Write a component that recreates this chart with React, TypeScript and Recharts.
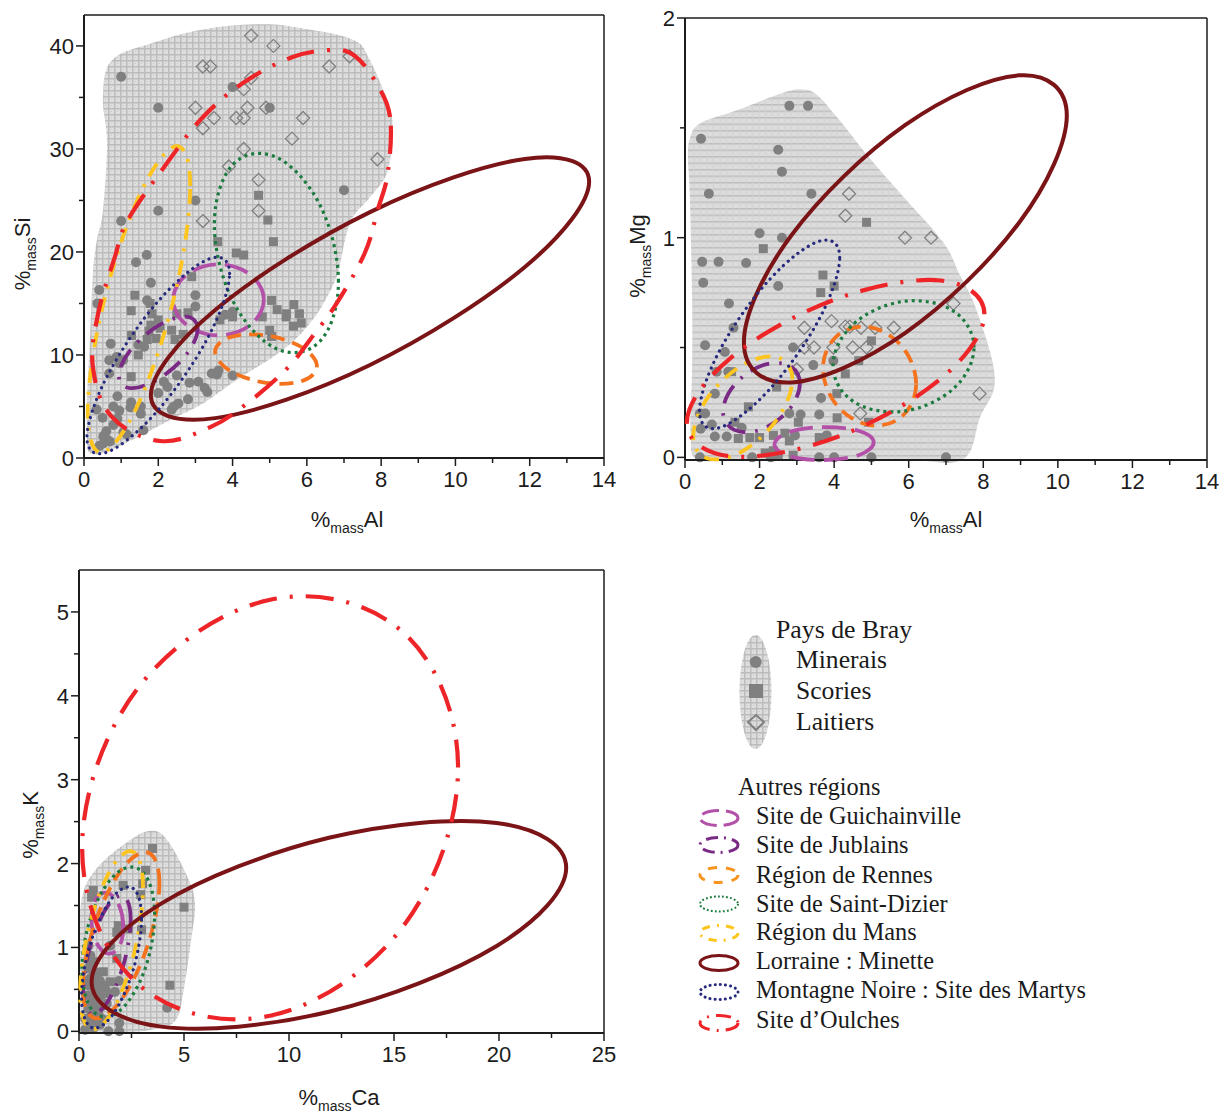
import React from 'react';
import { ComposedChart, Line, Scatter, XAxis, YAxis, Label, ReferenceLine } from 'recharts';

type Pt = number[];

// Chart 1: %Al / %Si
const siMinerais: Pt[] = [[1,37],[2,34],[4,36],[5,34],[3,25],[2,24],[1,23],[7,26],[1.69,19.7],[1.4,19],[1.8,17],[.41,16.3],[.36,15],[1.7,15.3],[3,15.8],[3,14.7],[.72,11.1],[1.46,11],[.68,9.5],[.88,9.8],[.68,8.2],[.9,6],[.79,5],[.34,4.7],[.5,3.9],[.79,3.2],[.52,2.1],[.52,1.4],[1.06,2.5],[1.6,2.7],[1.27,5.4],[1.53,5],[1.53,4.3],[2,6.3],[2.15,7.4],[2.5,8],[2.36,4.7],[2.54,5.3],[2.8,5.7],[2.84,7.3],[3.08,7.4],[3.32,6.4],[3.44,8.2],[3.62,8.5],[4,8],[3.8,13.9],[4,14.2],[1.62,10.8],[.95,9.2],[.62,1.8],[.42,1.2],[1.25,4.9],[2.42,5],[3.58,8.1],[3.25,6.8],[.7,1.6],[.6,2.6],[.9,3.8],[.95,4.6],[1.05,9.5],[2.25,6.9],[1.15,2.3]];
const siScories: Pt[] = [[4.7,25.5],[4.95,23.1],[5.1,21],[3.6,21],[4.1,19.9],[4.3,19.7],[2.9,17.6],[1.37,15.8],[1.27,14.3],[1.83,14],[2,13.4],[1.8,12.9],[2.5,14],[2.8,14.1],[3.66,13.4],[4,13.7],[5.05,15.3],[5.2,14.4],[5.65,14.9],[5.45,14],[5.44,13.7],[5.8,14],[5.85,13.1],[5.64,12.8],[5,12.4],[4.8,13.7],[2.36,12.4],[2.67,12],[2.45,11.5],[1.94,11.6],[1.7,11.5],[1.28,11.9],[1.46,10],[1.27,7.9],[1.78,15],[2.05,12.6],[1.75,12.3],[5.05,11.8]];
const siLaitiers: Pt[] = [[4.5,41],[5.1,40],[3.2,38],[3.4,38],[7.15,39],[6.6,38],[4.5,36.9],[4.3,35.8],[3,34],[4.4,34],[4.9,34],[3.5,33],[4.1,33],[4.3,33],[5.9,33],[3.2,32],[5.6,31],[4.3,30],[7.9,29],[3.9,28.3],[4.7,27],[4.7,24],[3.2,23]];
const siZone: Pt[] = [[.51,35],[.75,38.6],[1.86,40.3],[3.2,41.6],[4.74,42.1],[5.9,41.7],[7.24,40.6],[7.7,38.6],[8.24,33.8],[8.29,31.2],[8.16,27.7],[7.7,25.3],[7.24,23.4],[7.03,21.2],[6.84,18],[6.54,15.6],[6.09,13.1],[5.36,10.5],[4.12,7.6],[3.2,5.3],[2.32,3.7],[1.43,2],[.51,.5],[.16,.5],[.08,1.7],[.08,5.6],[.16,11.5],[.24,18],[.35,21.2],[.51,24],[.62,30.6]];
const siGuichainville: Pt[] = [[4.84,15.35],[4.48,17.78],[3.62,18.8],[2.76,17.78],[2.4,15.35],[2.76,12.92],[3.62,11.9],[4.48,12.92]];
const siJublains: Pt[] = [[3.06,12.53],[2.75,13.72],[2,12.84],[1.25,10.47],[.94,7.97],[1.25,6.78],[2,7.66],[2.75,10.03]];
const siRennes: Pt[] = [[6.27,8.9],[5.87,10.73],[4.9,11.9],[3.93,11.72],[3.53,10.3],[3.93,8.47],[4.9,7.3],[5.87,7.48]];
const siDizier: Pt[] = [[6.85,17.11],[6.36,24.5],[5.18,29.19],[4,28.44],[3.51,22.69],[4,15.3],[5.18,10.61],[6.36,11.36]];
const siMans: Pt[] = [[2.86,26.4],[2.46,30.25],[1.48,25.4],[.5,14.69],[.1,4.4],[.5,.55],[1.48,5.4],[2.46,16.11]];
const siLorraine: Pt[] = [[13.6,26.82],[11.87,29.03],[7.7,23.87],[3.53,14.36],[1.8,6.08],[3.53,3.87],[7.7,9.03],[11.87,18.54]];
const siMartys: Pt[] = [[3.92,17.91],[3.36,19.31],[2,15.23],[.64,8.05],[.08,1.99],[.64,.59],[2,4.67],[3.36,11.85]];
const siOulches: Pt[] = [[8.24,33.1],[7.85,36.5],[7.3,39],[6.7,39.6],[5.6,38.9],[4.28,36.4],[3.18,33],[2.23,28.6],[1.18,23.1],[.83,19.5],[.38,14],[.24,8.8],[.75,4],[2.05,1.65],[3.4,3],[4.39,5.3],[5.47,8.7],[6.17,11.9],[6.8,15],[7.56,19.9],[7.9,24],[8.18,27.7]];

// Chart 2: %Al / %Mg
const mgMinerais: Pt[] = [[2.8,1.6],[3.3,1.6],[.43,1.45],[2.5,1.4],[2.6,1.3],[.64,1.2],[3.39,1.2],[2,1.02],[2.6,1],[.46,.89],[.9,.89],[1.64,.885],[.49,.795],[2.5,.78],[1.18,.7],[1.3,.59],[.54,.51],[1.07,.48],[2.9,.5],[3.44,.42],[3.98,.44],[.85,.39],[1.16,.39],[.8,.29],[3.65,.27],[.4,.2],[.54,.2],[.72,.15],[.42,.13],[.8,.095],[1.12,.095],[1.52,.135],[2.8,.2],[3.1,.195],[3.6,.195],[3.8,.1],[.4,0],[2.3,0],[1.8,0],[3.6,0],[4,0],[5,0],[7,0],[2.95,.1]];
const mgScories: Pt[] = [[4.87,1.07],[2.1,.95],[3.7,.83],[4,.78],[3.64,.75],[5,.53],[4.66,.44],[4.3,.38],[1.25,.39],[2.46,.32],[4.07,.29],[1.7,.23],[1.34,.16],[4.08,.18],[4.92,.16],[3.04,.16],[2.8,.075],[2.68,.11],[3.6,.09],[2,.09],[1.43,.086],[1.74,.09],[2.37,.1],[2.15,.02],[2.37,.03],[2.5,.01],[2.9,.01]];
const mgLaitiers: Pt[] = [[4.4,1.2],[4.3,1.1],[5.9,1],[6.6,1],[3.2,.59],[3.93,.62],[4.3,.595],[4.42,.595],[4.72,.59],[5.1,.59],[5.6,.59],[7.2,.7],[3.2,.5],[3.46,.5],[3.98,.5],[4.5,.5],[4.87,.5],[3,.4],[7.9,.29],[4.7,.2]];
const mgZone: Pt[] = [[.08,1.36],[.13,1.45],[.4,1.52],[1.39,1.58],[2.63,1.66],[3.16,1.675],[3.54,1.65],[4.07,1.55],[4.96,1.36],[5.84,1.19],[6.92,.98],[7.37,.83],[7.83,.665],[8.31,.36],[7.91,.18],[7.45,-.01],[6,-.01],[4.5,-.01],[3,-.01],[1.5,-.01],[.35,-.01],[.15,.1],[.19,.41],[.19,.71],[.13,1.19]];
const mgGuichainville: Pt[] = [[5.06,.068],[4.67,.12],[3.73,.138],[2.79,.115],[2.4,.058],[2.79,.006],[3.73,-.012],[4.67,.011]];
const mgJublains: Pt[] = [[3.08,.335],[2.78,.419],[2.05,.417],[1.32,.329],[1.02,.209],[1.32,.125],[2.05,.127],[2.78,.215]];
const mgRennes: Pt[] = [[6.2,.335],[5.83,.503],[4.95,.593],[4.07,.552],[3.7,.405],[4.07,.237],[4.95,.147],[5.83,.188]];
const mgDizier: Pt[] = [[7.75,.5],[7.2,.666],[5.86,.71],[4.52,.607],[3.97,.418],[4.52,.254],[5.86,.21],[7.2,.313]];
const mgMans: Pt[] = [[2.88,.354],[2.49,.455],[1.55,.421],[.61,.272],[.22,.096],[.61,-.005],[1.55,.029],[2.49,.178]];
const mgLorraine: Pt[] = [[10.24,1.556],[8.97,1.739],[5.91,1.513],[2.85,1.01],[1.58,.524],[2.85,.341],[5.91,.567],[8.97,1.07]];
const mgMartys: Pt[] = [[4.15,.91],[3.6,.984],[2.27,.81],[.94,.49],[.39,.21],[.94,.136],[2.27,.31],[3.6,.63]];
const mgOulches: Pt[] = [[8.03,.652],[6.86,.805],[4.04,.72],[1.22,.452],[.05,.158],[1.22,.005],[4.04,.09],[6.86,.358]];

// Chart 3: %Ca / %K
const kMinerais: Pt[] = [[4.2,.28],[1.48,1.02],[.44,.43],[.68,.35],[.44,.27],[.92,.23],[.29,.15],[1,.08],[.29,.02],[1.4,0],[1.92,0],[1.92,.1],[.52,.11],[.68,.04],[.84,.13],[.6,.19],[.76,.51],[1.08,.43],[1.32,.33],[1.71,.47],[.44,.75],[.5,.62],[.6,.55],[.7,.7],[.55,.9],[.45,1.02],[1,.6],[.9,.45],[.5,.85],[.6,.8],[.75,.6],[.85,.7],[.95,.6],[.6,.4],[.75,.3],[.9,.35],[1.1,.3],[.45,.55],[.55,.3],[.7,.2],[.9,.15],[1.1,.15],[1.25,.5],[1.4,.45],[1.9,.6]];
const kScories: Pt[] = [[3.5,2.18],[3.17,1.92],[2.1,1.74],[3.03,1.76],[.68,1.68],[.6,1.6],[2.94,1.63],[5,1.48],[1.87,1.26],[1.8,1.18],[2.35,1.22],[2.98,1.21],[1.8,.87],[4.33,.55],[1.16,.71],[1.08,.55],[1.48,.59],[.68,.83],[.6,.63]];
const kZone: Pt[] = [[3.38,2.39],[4.17,2.29],[5.13,1.86],[5.52,1.54],[5.37,1.14],[4.97,.47],[4.65,.15],[3.86,.04],[2.03,-.02],[.8,-.02],[.08,0],[0,.47],[0,.95],[.13,1.58],[.84,1.94],[2.27,2.25]];
const kGuichainville: Pt[] = [[2.11,1.24],[1.89,1.51],[1.35,1.65],[.81,1.58],[.59,1.34],[.81,1.07],[1.35,.93],[1.89,1]];
const kJublains: Pt[] = [[2.46,1.33],[2.13,1.61],[1.33,1.48],[.53,1.016],[.2,.49],[.53,.21],[1.33,.34],[2.13,.804]];
const kRennes: Pt[] = [[3.83,1.77],[3.29,2.13],[2,1.92],[.71,1.25],[.18,.52],[.71,.16],[2,.37],[3.29,1.04]];
const kDizier: Pt[] = [[3.6,1.39],[3.09,1.885],[1.87,1.9],[.65,1.423],[.14,.74],[.65,.245],[1.87,.232],[3.09,.707]];
const kMans: Pt[] = [[3.05,1.71],[2.61,2.135],[1.55,1.947],[.49,1.253],[.05,.46],[.49,.035],[1.55,.223],[2.61,.917]];
const kLorraine: Pt[] = [[23.2,1.95],[19.89,2.484],[11.9,2.307],[3.91,1.522],[.6,.59],[3.91,.056],[11.9,.233],[19.89,1.018]];
const kMartys: Pt[] = [[2.98,1.35],[2.56,1.707],[1.55,1.58],[.54,1.043],[.12,.41],[.54,.053],[1.55,.18],[2.56,.717]];
const kOulches: Pt[] = [[18.05,3.145],[15.43,4.758],[9.1,5.145],[2.77,4.08],[.15,2.185],[2.77,.572],[9.1,.185],[15.43,1.25]];

const alTicks = [0, 1, 2, 3, 4, 5, 6, 7, 8, 9, 10, 11, 12, 13, 14];
const caTicks = [0, 2.5, 5, 7.5, 10, 12.5, 15, 17.5, 20, 22.5, 25];
const siTicks = [0, 5, 10, 15, 20, 25, 30, 35, 40];
const mgTicks = [0, 0.5, 1, 1.5, 2];
const kTicks = [0, 0.5, 1, 1.5, 2, 2.5, 3, 3.5, 4, 4.5, 5];

const paysLabels = ['Minerais', 'Scories', 'Laitiers'];
const regionLabels = ['Site de Guichainville', 'Site de Jublains', 'Région de Rennes', 'Site de Saint-Dizier', 'Région du Mans', 'Lorraine : Minette', 'Montagne Noire : Site des Martys', 'Site d’Oulches'];

// line style per region, same order as regionLabels
const regionStyles = [
    { stroke: '#b350a8', strokeWidth: 3.8, strokeDasharray: '24 9' },
    { stroke: '#7a2a85', strokeWidth: 3.8, strokeDasharray: '20 10 2.5 10' },
    { stroke: '#f4731f', strokeWidth: 3.8, strokeDasharray: '14 8' },
    { stroke: '#1b7a3e', strokeWidth: 3.2, strokeDasharray: '3 4' },
    { stroke: '#fdc51e', strokeWidth: 3.8, strokeDasharray: '15 9 3 9' },
    { stroke: '#7a1416', strokeWidth: 4 },
    { stroke: '#26297c', strokeWidth: 3.2, strokeDasharray: '0.1 6.2', strokeLinecap: 'round' as const },
    { stroke: '#ee2528', strokeWidth: 4.2, strokeDasharray: '28 13 3 13' },
];
const keyDashes = ['17 7', '12 6 2 6', '9 9', '1.8 2.2', '8 7 2 7', undefined, '0.1 5', '15 7 2 7'];

const ink = '#1c1c1c';
const grey = '#808080';

// closed curve through the points, the library only has closed curves that miss them
const closedSpline = (ctx: any) => {
    let pts: number[][] = [];
    return {
        areaStart() {},
        areaEnd() {},
        lineStart() { pts = []; },
        point(x: number, y: number) { pts.push([+x, +y]); },
        lineEnd() {
            const n = pts.length;
            ctx.moveTo(pts[0][0], pts[0][1]);
            for (let i = 0; i < n; i++) {
                const p0 = pts[(i + n - 1) % n], p1 = pts[i], p2 = pts[(i + 1) % n], p3 = pts[(i + 2) % n];
                ctx.bezierCurveTo(
                    p1[0] + (p2[0] - p0[0]) * 0.18, p1[1] + (p2[1] - p0[1]) * 0.18,
                    p2[0] - (p3[0] - p1[0]) * 0.18, p2[1] - (p3[1] - p1[1]) * 0.18,
                    p2[0], p2[1]
                );
            }
            ctx.closePath();
        },
    };
};

const rows = (pts: Pt[]) => pts.map(([x, y]) => ({ x, y }));

const Dot = ({ cx, cy }: any) => <circle cx={cx} cy={cy} r={5} fill={grey} />;
const Square = ({ cx, cy }: any) => <rect x={cx - 4.5} y={cy - 4.5} width={9} height={9} fill={grey} />;
const Diamond = ({ cx, cy }: any) => (
    <polygon points={`${cx},${cy - 6.5} ${cx + 6.5},${cy} ${cx},${cy + 6.5} ${cx - 6.5},${cy}`} fill="none" stroke={grey} strokeWidth={1.3} />
);

const XTick = ({ x, y, index, payload }: any) => (
    <g>
        <line x1={x} x2={x} y1={y} y2={y + (index % 2 === 0 ? 8 : 5)} stroke={ink} strokeWidth={1.5} />
        {index % 2 === 0 && <text x={x} y={y + 29} textAnchor="middle" fontSize={22} fill={ink}>{payload.value}</text>}
    </g>
);
const YTick = ({ x, y, index, payload }: any) => (
    <g>
        <line x1={x} x2={x - (index % 2 === 0 ? 8 : 5)} y1={y} y2={y} stroke={ink} strokeWidth={1.5} />
        {index % 2 === 0 && <text x={x - 10} y={y + 8} textAnchor="end" fontSize={22} fill={ink}>{payload.value}</text>}
    </g>
);

const Title = ({ x, y, el, vertical }: any) => (
    <text x={x} y={y} textAnchor="middle" fontSize={22} fill={ink} transform={vertical ? `rotate(-90 ${x} ${y})` : undefined}>
        %<tspan fontSize={14} dy={6}>mass</tspan><tspan dy={-6}>{el}</tspan>
    </text>
);

interface PlotProps {
    left: number; top: number; width: number; height: number;
    yWidth: number; xHeight: number; marginTop: number; marginRight: number;
    xMax: number; yMax: number; xTicks: number[]; yTicks: number[];
    xTitle: any; yTitle: any; hatch: string;
    zone: Pt[]; minerais: Pt[]; scories: Pt[]; laitiers?: Pt[]; regions: Pt[][];
}

const Plot = (p: PlotProps) => (
    <div style={{ position: 'absolute', left: p.left, top: p.top }}>
        <ComposedChart width={p.width} height={p.height} margin={{ top: p.marginTop, right: p.marginRight, bottom: 0, left: 0 }}>
            <XAxis dataKey="x" type="number" domain={[0, p.xMax]} ticks={p.xTicks} interval={0} height={p.xHeight}
                tickSize={0} tickMargin={0} tickLine={false} tick={<XTick />} axisLine={{ stroke: ink, strokeWidth: 2 }}>
                <Label content={() => <Title {...p.xTitle} />} />
            </XAxis>
            <YAxis dataKey="y" type="number" domain={[0, p.yMax]} ticks={p.yTicks} interval={0} width={p.yWidth}
                tickSize={0} tickMargin={0} tickLine={false} tick={<YTick />} axisLine={{ stroke: ink, strokeWidth: 2 }}>
                <Label content={() => <Title {...p.yTitle} vertical />} />
            </YAxis>
            <ReferenceLine y={p.yMax} stroke={ink} strokeWidth={1.5} />
            <ReferenceLine x={p.xMax} stroke={ink} strokeWidth={1.5} />
            <Line data={rows(p.zone)} dataKey="y" type={closedSpline as any} className={p.hatch} stroke="none" dot={false} activeDot={false} legendType="none" isAnimationActive={false} zIndex={300} />
            <Scatter data={rows(p.minerais)} dataKey="y" shape={<Dot />} isAnimationActive={false} zIndex={400} />
            <Scatter data={rows(p.scories)} dataKey="y" shape={<Square />} isAnimationActive={false} zIndex={400} />
            {p.laitiers && <Scatter data={rows(p.laitiers)} dataKey="y" shape={<Diamond />} isAnimationActive={false} zIndex={400} />}
            {p.regions.map((pts, i) => (
                <Line key={regionLabels[i]} data={rows(pts)} dataKey="y" type={closedSpline as any} {...regionStyles[i]} dot={false} activeDot={false} isAnimationActive={false} zIndex={700} />
            ))}
        </ComposedChart>
    </div>
);

const Key = () => (
    <svg width={1228} height={1117} style={{ position: 'absolute', left: 0, top: 0 }} fontFamily="'Liberation Serif', serif" fill="#1a1a1a">
        <ellipse cx={755.5} cy={692} rx={16} ry={57} fill="url(#hatchA)" />
        <circle cx={755.7} cy={662} r={6} fill={grey} />
        <rect x={749} y={684} width={14} height={14} fill={grey} />
        <polygon points="756,715 764,722 756,730 748,722" fill="none" stroke={grey} strokeWidth={2} />
        <text x={776} y={638} fontSize={25.8}>Pays de Bray</text>
        {paysLabels.map((t, i) => <text key={t} x={796} y={[668, 699, 730][i]} fontSize={25.6}>{t}</text>)}
        <text x={738} y={795} fontSize={24.3}>Autres régions</text>
        {regionLabels.map((t, i) => {
            const cy = [818, 845, 875, 904, 933, 963, 992, 1023][i];
            return (
                <g key={t}>
                    <ellipse cx={719} cy={cy} rx={19} ry={7.5} fill="none" {...regionStyles[i]} stroke={i === 2 ? '#f7941d' : regionStyles[i].stroke} strokeDasharray={keyDashes[i]} strokeWidth={i === 3 ? 2 : 3} />
                    <text x={756} y={[824, 853, 883, 912, 940, 969, 998, 1028][i]} fontSize={24.3}>{t}</text>
                </g>
            );
        })}
    </svg>
);

export default function App() {
    return (
        <div style={{ position: 'absolute', left: 0, top: 0, width: 1228, height: 1117, background: '#fff', fontFamily: "'Liberation Sans', Arial, sans-serif" }}>
            <style>{'.zone-a path{fill:url(#hatchA)} .zone-b path{fill:url(#hatchB)}'}</style>
            <svg width={0} height={0} style={{ position: 'absolute' }}>
                <defs>
                    <pattern id="hatchA" width={6} height={6} patternUnits="userSpaceOnUse">
                        <rect width={6} height={6} fill="#dedede" />
                        <rect x={3} y={3} width={1} height={1} fill="#cdcdcd" />
                        <path d="M0 0.75H6M0.75 0V6" stroke="#bcbcbc" strokeWidth={1.5} />
                    </pattern>
                    <pattern id="hatchB" width={6.5} height={6.5} patternUnits="userSpaceOnUse">
                        <rect width={6.5} height={6.5} fill="#dcdcdc" />
                        <path d="M0 0.75H6.5" stroke="#bdbdbd" strokeWidth={1.5} />
                        <path d="M3 0V6.5" stroke="#d2d2d2" strokeWidth={1} />
                    </pattern>
                </defs>
            </svg>
            <Plot left={0} top={0} width={620} height={545} yWidth={84} xHeight={87} marginTop={15} marginRight={16}
                xMax={14} yMax={43} xTicks={alTicks} yTicks={siTicks} hatch="zone-a"
                xTitle={{ x: 347, y: 527, el: 'Al' }} yTitle={{ x: 30, y: 254, el: 'Si' }}
                zone={siZone} minerais={siMinerais} scories={siScories} laitiers={siLaitiers}
                regions={[siGuichainville, siJublains, siRennes, siDizier, siMans, siLorraine, siMartys, siOulches]} />
            <Plot left={600} top={0} width={620} height={545} yWidth={85} xHeight={85} marginTop={18} marginRight={13}
                xMax={14} yMax={2} xTicks={alTicks} yTicks={mgTicks} hatch="zone-b"
                xTitle={{ x: 346, y: 527, el: 'Al' }} yTitle={{ x: 45, y: 256, el: 'Mg' }}
                zone={mgZone} minerais={mgMinerais} scories={mgScories} laitiers={mgLaitiers}
                regions={[mgGuichainville, mgJublains, mgRennes, mgDizier, mgMans, mgLorraine, mgMartys, mgOulches]} />
            <Plot left={0} top={555} width={620} height={562} yWidth={79} xHeight={84} marginTop={15} marginRight={16}
                xMax={25} yMax={5.5} xTicks={caTicks} yTicks={kTicks} hatch="zone-a"
                xTitle={{ x: 339, y: 550, el: 'Ca' }} yTitle={{ x: 38, y: 270, el: 'K' }}
                zone={kZone} minerais={kMinerais} scories={kScories}
                regions={[kGuichainville, kJublains, kRennes, kDizier, kMans, kLorraine, kMartys, kOulches]} />
            <Key />
        </div>
    );
}
